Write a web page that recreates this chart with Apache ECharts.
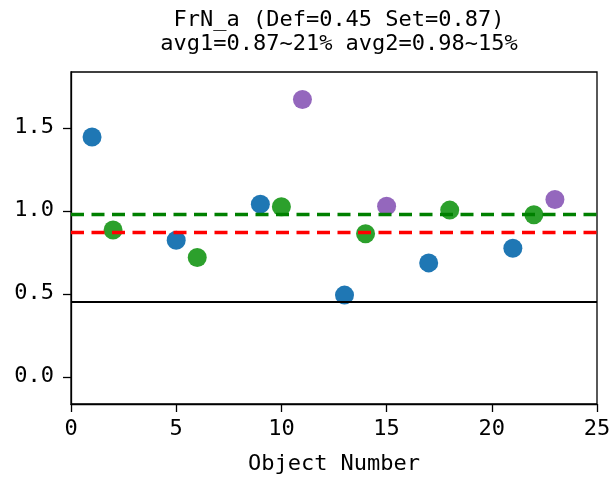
<!DOCTYPE html>
<html>
<head>
<meta charset="utf-8">
<script src="https://cdn.jsdelivr.net/npm/echarts@6/dist/echarts.min.js"></script>
<style>html,body{margin:0;padding:0;background:#fff}#c{width:615px;height:480px}</style>
</head>
<body>
<div id="c"></div>
<script>
var titleLines = ['FrN_a (Def=0.45 Set=0.87)', 'avg1=0.87~21% avg2=0.98~15%'];
var xAxisName = 'Object Number';
var xTicks = [0, 5, 10, 15, 20, 25];
var yTicks = [0.0, 0.5, 1.0, 1.5];

var blueX = [1, 5, 9, 13, 17, 21];
var blueY = [1.444, 0.822, 1.040, 0.492, 0.686, 0.774];
var greenX = [2, 6, 10, 14, 18, 22];
var greenY = [0.884, 0.718, 1.024, 0.862, 1.004, 0.976];
var purpleX = [11, 15, 23];
var purpleY = [1.670, 1.028, 1.068];

var defValue = 0.45;
var avg1Value = 0.87;
var avg2Value = 0.98;

function pairs(xs, ys) { return xs.map(function (x, i) { return [x, ys[i]]; }); }

var FONT = 'DejaVu Sans Mono';
var chart = echarts.init(document.getElementById('c'), null, { renderer: 'canvas' });

function hline(val, color, width, type) {
  return {
    type: 'line', data: [], silent: true, z: 1,
    markLine: {
      silent: true, symbol: ['none', 'none'], label: { show: false },
      lineStyle: { color: color, width: width, type: type, opacity: 1 },
      emphasis: { disabled: true },
      data: [{ yAxis: val }],
      animation: false
    }
  };
}

chart.setOption({
  animation: false,
  backgroundColor: '#fff',
  title: {
    text: titleLines.join('\n'),
    left: 334, top: 3, textAlign: 'center',
    textStyle: { fontFamily: FONT, fontSize: 22, fontWeight: 'normal', color: '#000', lineHeight: 24 }
  },
  grid: { left: 71, right: 18, top: 72, bottom: 74, show: true, borderColor: '#000', borderWidth: 1.3, backgroundColor: 'transparent' },
  xAxis: {
    type: 'value', min: 0, max: 25, interval: 5,
    name: xAxisName, nameLocation: 'middle', nameGap: 49,
    nameTextStyle: { fontFamily: FONT, fontSize: 22, color: '#000' },
    axisLine: { show: true, onZero: false, lineStyle: { color: '#000', width: 1.3 } },
    axisTick: { show: true, inside: false, length: 8, lineStyle: { color: '#000', width: 1.3 } },
    axisLabel: { fontFamily: FONT, fontSize: 22, color: '#000', margin: 14 },
    splitLine: { show: false }
  },
  yAxis: {
    type: 'value', min: -0.164, max: 1.836,
    axisLine: { show: true, onZero: false, lineStyle: { color: '#000', width: 1.3 } },
    axisTick: { show: true, inside: false, length: 8, customValues: yTicks, lineStyle: { color: '#000', width: 1.3 } },
    axisLabel: { fontFamily: FONT, fontSize: 22, color: '#000', margin: 17, customValues: yTicks,
      formatter: function (v) { return v.toFixed(1); } },
    splitLine: { show: false }
  },
  series: [
    hline(defValue, '#000000', 2, 'solid'),
    hline(avg1Value, '#ff0000', 3.3, [13, 7.5]),
    hline(avg2Value, '#008000', 3.3, [13, 7.5]),
    { type: 'scatter', z: 3, symbolSize: 19, itemStyle: { color: '#1f77b4', opacity: 1 }, data: pairs(blueX, blueY) },
    { type: 'scatter', z: 3, symbolSize: 19, itemStyle: { color: '#2ca02c', opacity: 1 }, data: pairs(greenX, greenY) },
    { type: 'scatter', z: 3, symbolSize: 19, itemStyle: { color: '#9467bd', opacity: 1 }, data: pairs(purpleX, purpleY) }
  ]
});
</script>
</body>
</html>
